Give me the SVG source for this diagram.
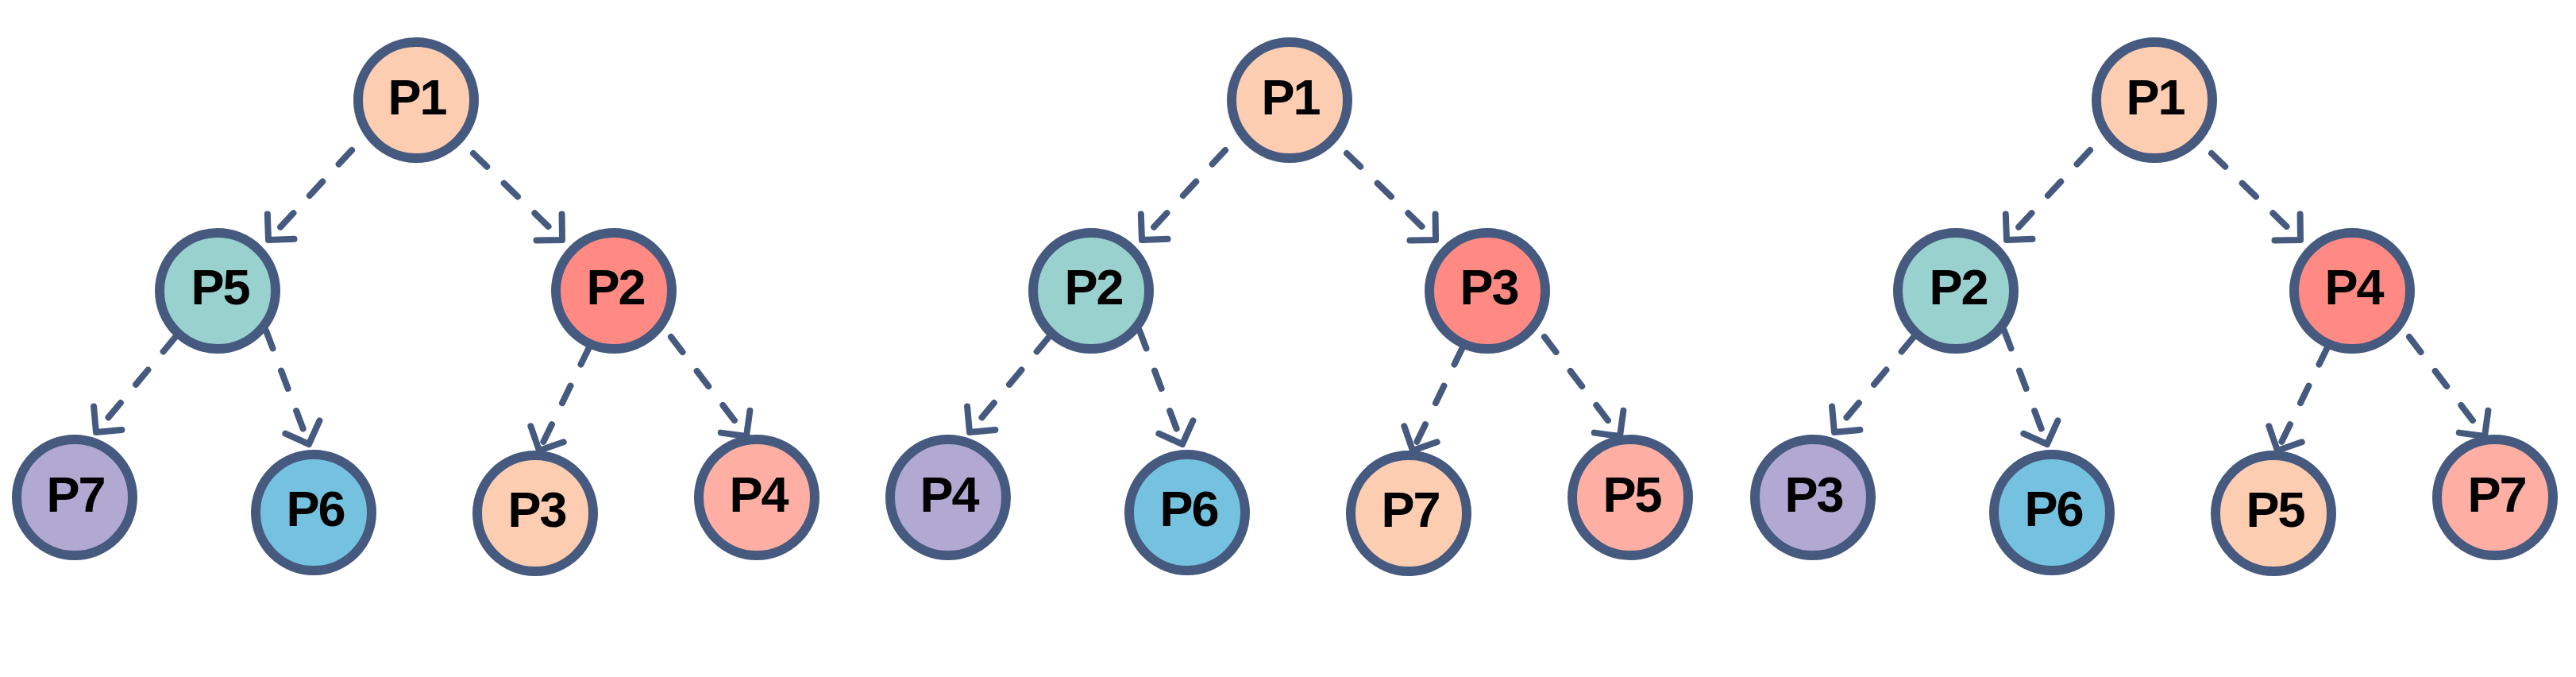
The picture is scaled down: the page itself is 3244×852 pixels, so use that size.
<svg xmlns="http://www.w3.org/2000/svg" width="3244" height="852" viewBox="0 0 3244 852">
<style>
  .node circle { stroke: #465a7f; stroke-width: 12; }
  .node text { font-family: "Liberation Sans", "DejaVu Sans", sans-serif; font-weight: 700; font-size: 63px; fill: #000; text-anchor: middle; letter-spacing: -2px; }
  .peach { fill: #fdcdb1; }
  .teal { fill: #98d1cd; }
  .red { fill: #ff8a84; }
  .purple { fill: #b1a9d2; }
  .blue { fill: #75c2e0; }
  .salmon { fill: #feaea2; }
  .edge { fill: none; stroke: #465a7f; stroke-width: 8; stroke-linecap: round; stroke-dasharray: 24 30; marker-end: url(#arrow); }
</style>
<defs>
  <marker id="arrow" markerUnits="userSpaceOnUse" markerWidth="60" markerHeight="60" refX="0" refY="0" orient="auto" overflow="visible" viewBox="-30 -30 60 60">
    <path d="M -23 -23 L 0 0 L -23 23" fill="none" stroke="#465a7f" stroke-width="8" stroke-linecap="round" stroke-linejoin="round" stroke-dasharray="none"/>
  </marker>
</defs>
<rect width="3244" height="852" fill="#ffffff"/>

<g id="connectors">
  <g id="edges-tree1">
    <line class="edge" x1="443" y1="189" x2="338" y2="302"/>
    <line class="edge" x1="596" y1="193" x2="708" y2="302"/>
    <line class="edge" x1="221" y1="424" x2="121" y2="544"/>
    <line class="edge" x1="335" y1="416" x2="389" y2="559"/>
    <line class="edge" x1="742" y1="437" x2="679" y2="567"/>
    <line class="edge" x1="845" y1="424" x2="940" y2="549"/>
  </g>
  <g id="edges-tree2" transform="translate(1100,0)">
    <line class="edge" x1="443" y1="189" x2="338" y2="302"/>
    <line class="edge" x1="596" y1="193" x2="708" y2="302"/>
    <line class="edge" x1="221" y1="424" x2="121" y2="544"/>
    <line class="edge" x1="335" y1="416" x2="389" y2="559"/>
    <line class="edge" x1="742" y1="437" x2="679" y2="567"/>
    <line class="edge" x1="845" y1="424" x2="940" y2="549"/>
  </g>
  <g id="edges-tree3" transform="translate(2189,0)">
    <line class="edge" x1="443" y1="189" x2="338" y2="302"/>
    <line class="edge" x1="596" y1="193" x2="708" y2="302"/>
    <line class="edge" x1="221" y1="424" x2="121" y2="544"/>
    <line class="edge" x1="335" y1="416" x2="389" y2="559"/>
    <line class="edge" x1="742" y1="437" x2="679" y2="567"/>
    <line class="edge" x1="845" y1="424" x2="940" y2="549"/>
  </g>
</g>

<g id="tree1">
  <g id="t1-p1" class="node"><circle class="peach" cx="524" cy="126" r="73"/><text x="525" y="144">P1</text></g>
  <g id="t1-p5" class="node"><circle class="teal" cx="274" cy="366" r="73"/><text x="277" y="383">P5</text></g>
  <g id="t1-p2" class="node"><circle class="red" cx="773" cy="366" r="73"/><text x="775" y="383">P2</text></g>
  <g id="t1-p7" class="node"><circle class="purple" cx="94" cy="626" r="73"/><text x="95" y="644">P7</text></g>
  <g id="t1-p6" class="node"><circle class="blue" cx="395" cy="645" r="73"/><text x="397" y="662">P6</text></g>
  <g id="t1-p3" class="node"><circle class="peach" cx="674" cy="646" r="73"/><text x="676" y="663">P3</text></g>
  <g id="t1-p4" class="node"><circle class="salmon" cx="953" cy="626" r="73"/><text x="955" y="644">P4</text></g>
</g>

<g id="tree2" transform="translate(1100,0)">
  <g id="t2-p1" class="node"><circle class="peach" cx="524" cy="126" r="73"/><text x="525" y="144">P1</text></g>
  <g id="t2-p2" class="node"><circle class="teal" cx="274" cy="366" r="73"/><text x="277" y="383">P2</text></g>
  <g id="t2-p3" class="node"><circle class="red" cx="773" cy="366" r="73"/><text x="775" y="383">P3</text></g>
  <g id="t2-p4" class="node"><circle class="purple" cx="94" cy="626" r="73"/><text x="95" y="644">P4</text></g>
  <g id="t2-p6" class="node"><circle class="blue" cx="395" cy="645" r="73"/><text x="397" y="662">P6</text></g>
  <g id="t2-p7" class="node"><circle class="peach" cx="674" cy="646" r="73"/><text x="676" y="663">P7</text></g>
  <g id="t2-p5" class="node"><circle class="salmon" cx="953" cy="626" r="73"/><text x="955" y="644">P5</text></g>
</g>

<g id="tree3" transform="translate(2189,0)">
  <g id="t3-p1" class="node"><circle class="peach" cx="524" cy="126" r="73"/><text x="525" y="144">P1</text></g>
  <g id="t3-p2" class="node"><circle class="teal" cx="274" cy="366" r="73"/><text x="277" y="383">P2</text></g>
  <g id="t3-p4" class="node"><circle class="red" cx="773" cy="366" r="73"/><text x="775" y="383">P4</text></g>
  <g id="t3-p3" class="node"><circle class="purple" cx="94" cy="626" r="73"/><text x="95" y="644">P3</text></g>
  <g id="t3-p6" class="node"><circle class="blue" cx="395" cy="645" r="73"/><text x="397" y="662">P6</text></g>
  <g id="t3-p5" class="node"><circle class="peach" cx="674" cy="646" r="73"/><text x="676" y="663">P5</text></g>
  <g id="t3-p7" class="node"><circle class="salmon" cx="953" cy="626" r="73"/><text x="955" y="644">P7</text></g>
</g>
</svg>
